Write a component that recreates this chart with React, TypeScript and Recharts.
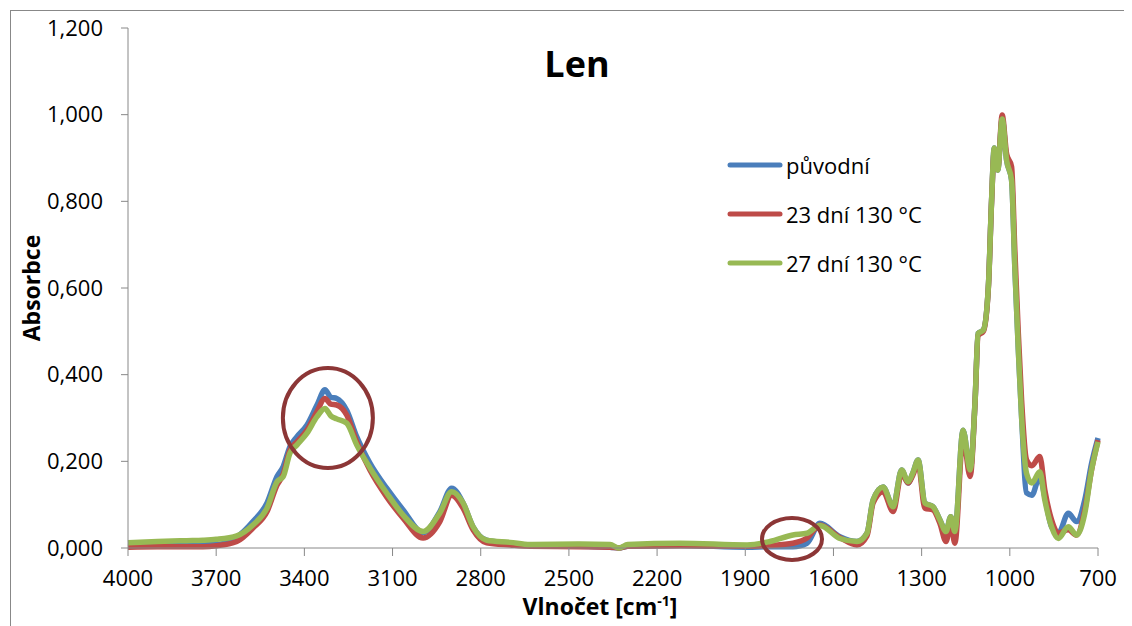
import React from "react";
import { LineChart, Line, XAxis, YAxis, Legend, ReferenceDot } from "recharts";

const wavenumbers = [
  4000, 3900, 3800, 3745, 3700, 3630, 3575, 3527, 3493, 3472, 3449, 3425, 3391, 3357, 3330, 3310, 3290,
  3256, 3222, 3177, 3120, 3064, 2996, 2939, 2899, 2860, 2826, 2780, 2700, 2632, 2462, 2360, 2330, 2300,
  2122, 1894, 1816, 1738, 1690, 1646, 1578, 1520, 1486, 1465, 1431, 1397, 1368, 1346, 1330, 1312, 1289,
  1261, 1238, 1217, 1201, 1187, 1159, 1135, 1118, 1108, 1090, 1073, 1062, 1053, 1041, 1026, 1011, 994,
  983, 971, 960, 943, 925, 898, 881, 858, 835, 801, 773, 745, 722, 700,
];

const puvodni = [
  0.004, 0.005, 0.006, 0.007, 0.008, 0.025, 0.061, 0.104, 0.165, 0.188, 0.234, 0.257, 0.284, 0.33, 0.365, 0.348, 0.345,
  0.318, 0.257, 0.196, 0.138, 0.088, 0.035, 0.084, 0.138, 0.104, 0.049, 0.018, 0.011, 0.006, 0.004, 0.002, 0.0, 0.004,
  0.006, 0.002, 0.003, 0.003, 0.011, 0.057, 0.026, 0.015, 0.034, 0.111, 0.141, 0.095, 0.18, 0.15, 0.173, 0.203, 0.104,
  0.095, 0.065, 0.038, 0.072, 0.038, 0.272, 0.18, 0.342, 0.495, 0.503, 0.603, 0.803, 0.923, 0.872, 0.99, 0.895, 0.849,
  0.649, 0.457, 0.303, 0.127, 0.122, 0.165, 0.118, 0.049, 0.034, 0.08, 0.061, 0.111, 0.195, 0.254,
];

const dni23 = [
  0.002, 0.003, 0.003, 0.003, 0.005, 0.015, 0.046, 0.084, 0.145, 0.17, 0.226, 0.245, 0.272, 0.315, 0.345, 0.332, 0.33,
  0.307, 0.245, 0.18, 0.118, 0.069, 0.023, 0.061, 0.122, 0.092, 0.042, 0.012, 0.007, 0.004, 0.003, 0.002, 0.0, 0.004,
  0.005, 0.004, 0.006, 0.011, 0.023, 0.053, 0.024, 0.007, 0.028, 0.104, 0.13, 0.084, 0.172, 0.15, 0.168, 0.196, 0.092,
  0.088, 0.057, 0.015, 0.057, 0.011, 0.257, 0.165, 0.34, 0.49, 0.5, 0.6, 0.8, 0.915, 0.875, 0.999, 0.91, 0.88,
  0.688, 0.495, 0.342, 0.203, 0.19, 0.211, 0.134, 0.065, 0.034, 0.042, 0.03, 0.088, 0.18, 0.249,
];

const dni27 = [
  0.012, 0.015, 0.017, 0.018, 0.02, 0.028, 0.053, 0.092, 0.153, 0.165, 0.219, 0.238, 0.265, 0.303, 0.322, 0.305, 0.298,
  0.288, 0.238, 0.185, 0.127, 0.076, 0.038, 0.081, 0.13, 0.104, 0.049, 0.018, 0.013, 0.008, 0.009, 0.008, 0.0, 0.008,
  0.011, 0.007, 0.015, 0.03, 0.034, 0.052, 0.022, 0.015, 0.034, 0.111, 0.141, 0.095, 0.18, 0.153, 0.173, 0.203, 0.104,
  0.095, 0.065, 0.038, 0.072, 0.038, 0.272, 0.18, 0.342, 0.495, 0.503, 0.603, 0.803, 0.923, 0.872, 0.99, 0.895, 0.849,
  0.649, 0.457, 0.303, 0.172, 0.15, 0.176, 0.111, 0.049, 0.022, 0.049, 0.03, 0.08, 0.18, 0.245,
];

const xTicks = [4000, 3700, 3400, 3100, 2800, 2500, 2200, 1900, 1600, 1300, 1000, 700];
const yTicks = [0, 0.2, 0.4, 0.6, 0.8, 1.0, 1.2];

const seriesNames = ["původní", "23 dní 130 °C", "27 dní 130 °C"];
const colors = ["#4a7ebb", "#be4b48", "#98b954"];

const data = wavenumbers.map((w, i) => ({ w, a: puvodni[i], b: dni23[i], c: dni27[i] }));

const font = "'Open Sans', sans-serif";

const fmtY = (v: number) => v.toFixed(3).replace(".", ",");

const Ellipse = (rx: number, ry: number) => (props: any) =>
  <ellipse cx={props.cx} cy={props.cy} rx={rx} ry={ry} fill="none" stroke="#8c3636" strokeWidth={4} />;

const LegendBox = () => (
  <div style={{ fontFamily: font, fontSize: 22, color: "#000" }}>
    {seriesNames.map((n, i) => (
      <div key={n} style={{ display: "flex", alignItems: "center", height: 49 }}>
        <svg width={56} height={10}>
          <line x1={3} y1={5} x2={53} y2={5} stroke={colors[i]} strokeWidth={5} strokeLinecap="round" />
        </svg>
        <span style={{ marginLeft: 3 }}>{n}</span>
      </div>
    ))}
  </div>
);

export default function App() {
  return (
    <div style={{ position: "relative", width: 1124, height: 618 }}>
      <div style={{ position: "absolute", left: 2, top: 2, width: 1200, height: 700, borderLeft: "1px solid #888", borderTop: "1px solid #888" }} />
      <div style={{ position: "absolute", left: 569, top: 38, transform: "translateX(-50%)", fontFamily: font, fontWeight: 700, fontSize: 36, lineHeight: 1 }}>
        Len
      </div>
      <LineChart width={1124} height={618} data={data} margin={{ top: 20, right: 34, bottom: 18, left: 0 }}>
        <XAxis
          dataKey="w"
          type="number"
          domain={[700, 4000]}
          reversed
          ticks={xTicks}
          interval={0}
          tickSize={8}
          tickMargin={14}
          height={60}
          stroke="#888"
          tick={{ fill: "#000", fontSize: 22, fontFamily: font }}
          label={{
            content: (p: any) => {
              const vb = p.viewBox;
              return (
                <text x={vb.x + vb.width / 2 - 13} y={vb.y + 67} textAnchor="middle" fontFamily={font} fontWeight={700} fontSize={23} fill="#000">
                  Vlnočet [cm<tspan dy={-9} fontSize={14}>-1</tspan><tspan dy={9}>]</tspan>
                </text>
              );
            },
          }}
        />
        <YAxis
          domain={[0, 1.2]}
          ticks={yTicks}
          interval={0}
          width={120}
          tickSize={7}
          tickMargin={18}
          stroke="#888"
          tickFormatter={fmtY}
          tick={{ fill: "#000", fontSize: 22, fontFamily: font }}
          label={{
            content: (p: any) => {
              const vb = p.viewBox;
              const cy = vb.y + vb.height / 2;
              return (
                <text x={23} y={cy} transform={`rotate(-90, 23, ${cy})`} textAnchor="middle" dominantBaseline="central" fontFamily={font} fontWeight={700} fontSize={23} fill="#000">
                  Absorbce
                </text>
              );
            },
          }}
        />
        <Legend content={<LegendBox />} layout="vertical" align="center" verticalAlign="middle" wrapperStyle={{ left: 719, top: 132, width: "auto" }} />
        <Line type="monotone" dataKey="a" name={seriesNames[0]} stroke={colors[0]} strokeWidth={5.5} dot={false} isAnimationActive={false} />
        <Line type="monotone" dataKey="b" name={seriesNames[1]} stroke={colors[1]} strokeWidth={5.5} dot={false} isAnimationActive={false} />
        <Line type="monotone" dataKey="c" name={seriesNames[2]} stroke={colors[2]} strokeWidth={5.5} dot={false} isAnimationActive={false} />
        <ReferenceDot x={3320} y={0.3} ifOverflow="visible" shape={Ellipse(45, 50)} />
        <ReferenceDot x={1741} y={0.021} ifOverflow="visible" shape={Ellipse(30, 21)} />
      </LineChart>
    </div>
  );
}
